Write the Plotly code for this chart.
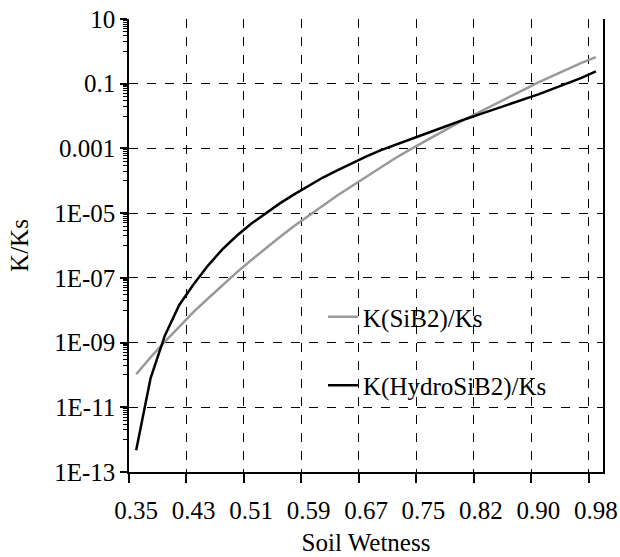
import plotly.graph_objects as go

# Soil wetness categories (33 evenly spaced classes), labelled every 4th
tick_labels = ["0.35", "0.43", "0.51", "0.59", "0.67", "0.75", "0.82", "0.90", "0.98"]
n_cat = 33

k_sib2 = [1.05e-10, 3.5e-10, 1.07e-9, 3.2e-9, 8.9e-9, 2.3e-8, 6.0e-8, 1.48e-7, 3.5e-7,
          8.1e-7, 1.82e-6, 4.0e-6, 8.3e-6, 1.74e-5, 3.5e-5, 6.8e-5, 1.32e-4, 2.6e-4,
          4.9e-4, 8.9e-4, 1.58e-3, 2.8e-3, 4.9e-3, 8.3e-3, 1.41e-2, 2.4e-2, 4.0e-2,
          6.6e-2, 0.11, 0.178, 0.28, 0.44, 0.66]

k_hydro = [4.7e-13, 7.9e-11, 1.66e-9, 1.45e-8, 6.3e-8, 2.4e-7, 7.6e-7, 2.0e-6, 4.7e-6,
           1.0e-5, 2.0e-5, 3.8e-5, 7.1e-5, 1.26e-4, 2.1e-4, 3.5e-4, 5.6e-4, 8.7e-4,
           1.29e-3, 1.86e-3, 2.7e-3, 3.9e-3, 5.8e-3, 8.3e-3, 1.17e-2, 1.66e-2, 2.3e-2,
           3.2e-2, 4.7e-2, 6.9e-2, 0.1, 0.151, 0.24]

y_tickvals = [10, 0.1, 1e-3, 1e-5, 1e-7, 1e-9, 1e-11, 1e-13]
y_ticktext = ["10", "0.1", "0.001", "1E-05", "1E-07", "1E-09", "1E-11", "1E-13"]

cats = list(range(n_cat))
label_pos = list(range(0, n_cat, 4))
boundaries = [p - 0.5 for p in label_pos]

# minor ticks on log axis inside each 2-decade interval
y_minor = []
for a in [1e-13, 1e-11, 1e-9, 1e-7, 1e-5, 1e-3, 1e-1]:
    for k in range(1, 10):
        y_minor.append(a * 10 * k)

FONT = "Liberation Serif, Times New Roman, serif"
FS = 25

fig = go.Figure()
fig.add_trace(go.Scatter(x=cats, y=k_sib2, mode="lines", name="K(SiB2)/Ks",
                         line=dict(color="#999999", width=2.5), legendgroup="a"))
fig.add_trace(go.Scatter(x=cats, y=k_hydro, mode="lines", name="K(HydroSiB2)/Ks",
                         line=dict(color="#000000", width=2.5), legendgroup="b"))

# white box behind the legend, hiding the gridlines there
fig.add_shape(type="rect", xref="paper", yref="paper",
              x0=(277 - 129) / 474, x1=(586 - 129) / 474,
              y0=(472 - 418) / 453, y1=(472 - 280) / 453,
              fillcolor="white", line=dict(width=0), layer="between")

fig.update_layout(
    width=620, height=557,
    margin=dict(l=129, r=17, t=19, b=85),
    paper_bgcolor="white", plot_bgcolor="white",
    font=dict(family=FONT, size=FS, color="black"),
    showlegend=True,
    legend=dict(x=(323 - 129) / 474, y=(472 - 294) / 453, xanchor="left", yanchor="top",
                bgcolor="rgba(0,0,0,0)", font=dict(size=FS, family=FONT),
                traceorder="grouped", tracegroupgap=33, itemwidth=30),
    xaxis=dict(
        range=[-0.5, n_cat - 0.5], automargin=False,
        tickmode="array", tickvals=label_pos, ticktext=tick_labels,
        ticks="", showgrid=False, zeroline=False,
        showline=True, linecolor="black", linewidth=1.5,
        ticklabelstandoff=15,
        minor=dict(tickmode="array", tickvals=boundaries, ticks="outside", ticklen=9,
                   tickcolor="black", tickwidth=1.5, showgrid=True, gridcolor="black",
                   griddash="dash", gridwidth=1),
        title=dict(text="Soil Wetness", font=dict(size=FS, family=FONT), standoff=11),
    ),
    yaxis=dict(
        type="log", range=[-13, 1], automargin=False,
        tickmode="array", tickvals=y_tickvals, ticktext=y_ticktext,
        ticks="outside", ticklen=7, tickcolor="black", tickwidth=1.5,
        showgrid=True, gridcolor="black", griddash="dash", gridwidth=1,
        zeroline=False, showline=True, linecolor="black", linewidth=1.5, mirror=True,
        minor=dict(tickmode="array", tickvals=y_minor, ticks="outside", ticklen=4,
                   tickcolor="black", tickwidth=1, showgrid=False),
        title=dict(text="K/Ks", font=dict(size=FS, family=FONT), standoff=18),
    ),
)

fig.write_html("out.html")
